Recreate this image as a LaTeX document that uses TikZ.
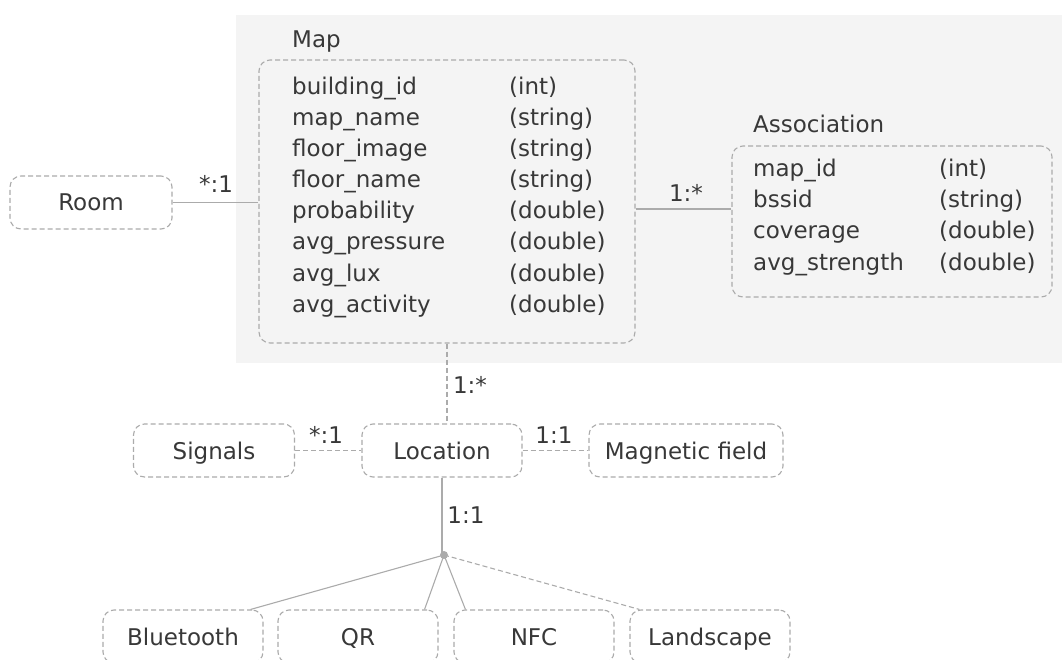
\documentclass[tikz,border=0pt]{standalone}
\usepackage{fontspec}
\setmainfont{DejaVu Sans}
\usetikzlibrary{calc}
\definecolor{txt}{HTML}{383838}
\definecolor{edge}{HTML}{ABABAB}
\definecolor{panel}{HTML}{F4F4F4}
\begin{document}
\begin{tikzpicture}[x=1pt,y=-1pt,
  font=\fontsize{23}{28}\selectfont, text=txt,
  entity/.style={draw=edge, line width=1.1pt, dash pattern=on 5pt off 3pt,
    rounded corners=11pt, inner sep=0pt, text height=17pt, text depth=0pt},
  field/.style={anchor=west, inner sep=0pt, text height=17pt, text depth=5pt},
  card/.style={inner sep=1pt, text height=17pt, text depth=5pt},
  rel/.style={draw=edge, line width=1.1pt},
  relDash/.style={rel, dash pattern=on 5pt off 3pt}]
\useasboundingbox (0,0) rectangle (1062,660);

% shaded area holding the Map and Association tables
\fill[panel] (236,15) rectangle (1062,363);

% Map table
\node[entity, minimum width=376pt, minimum height=283pt] (map) at (447,201.5) {};
\node[field] (maptitle) at (292,42) {Map};
\foreach \name/\type [count=\i from 0] in {building\_id/(int), map\_name/(string),
  floor\_image/(string), floor\_name/(string), probability/(double),
  avg\_pressure/(double), avg\_lux/(double), avg\_activity/(double)} {
  \node[field] (mapf\i) at (292,89+31*\i) {\name};
  \node[field] (mapt\i) at (509,89+31*\i) {\type};
}

% Association table
\node[entity, minimum width=320pt, minimum height=151pt] (assoc) at (892,221.5) {};
\node[field] (assoctitle) at (753,127) {Association};
\foreach \name/\type [count=\i from 0] in {map\_id/(int), bssid/(string),
  coverage/(double), avg\_strength/(double)} {
  \node[field] (assf\i) at (753,171+31*\i) {\name};
  \node[field] (asst\i) at (939,171+31*\i) {\type};
}

% Room
\node[entity, fill=white, minimum width=162pt, minimum height=53pt] (room) at (91,202.5) {Room};

% Location row
\node[entity, fill=white, minimum width=161pt, minimum height=53pt] (signals) at (214,450.5) {Signals};
\node[entity, fill=white, minimum width=160pt, minimum height=53pt] (loc) at (442,450.5) {Location};
\node[entity, fill=white, minimum width=194pt, minimum height=53pt] (mag) at (686,450.5) {Magnetic field};

% positioning methods
\node[entity, fill=white, minimum width=160pt, minimum height=53pt] (bt) at (183,636.5) {Bluetooth};
\node[entity, fill=white, minimum width=160pt, minimum height=53pt] (qr) at (358,636.5) {QR};
\node[entity, fill=white, minimum width=160pt, minimum height=53pt] (nfc) at (534,636.5) {NFC};
\node[entity, fill=white, minimum width=160pt, minimum height=53pt] (land) at (710,636.5) {Landscape};

\coordinate (hub) at (444,555);
\coordinate (assocLink) at (0,209);

% relations
\draw[rel] (room.east) -- (room.east -| map.west);
\node[card] (cRoom) at (216,187) {*:1};

\draw[rel] (map.east |- assocLink) -- (assoc.west |- assocLink);
\node[card] (cAssoc) at (686,196) {1:*};

\draw[relDash] (map.south) -- (map.south |- loc.north);
\node[card] (cLoc) at (470,387) {1:*};

\draw[relDash] (signals.east) -- (loc.west);
\node[card] (cSig) at (326,437) {*:1};

\draw[relDash] (loc.east) -- (mag.west);
\node[card] (cMag) at (554,437) {1:1};

\draw[rel] (loc.south) -- (loc.south |- hub);
\node[card] (cHub) at (466,517) {1:1};

\draw[rel] (hub) -- ([xshift=-13pt]bt.north east);
\draw[rel] (hub) -- ([xshift=-14pt]qr.north east);
\draw[rel] (hub) -- ([xshift=12pt]nfc.north west);
\draw[relDash] (hub) -- ([xshift=10pt]land.north west);
\fill[edge] (hub) circle (4pt);
\end{tikzpicture}
\end{document}
